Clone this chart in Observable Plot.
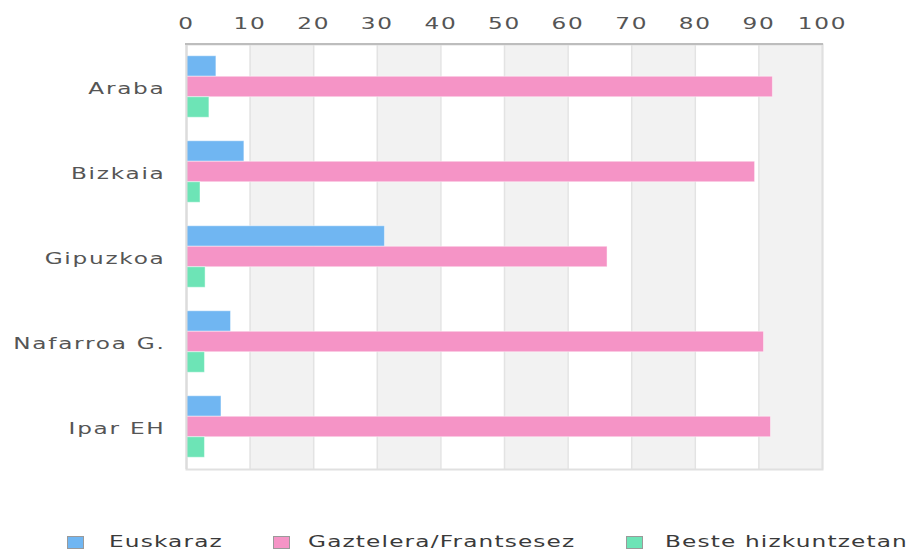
<!DOCTYPE html>
<html>
<head>
<meta charset="utf-8">
<script src="https://cdn.jsdelivr.net/npm/d3@7"></script>
<script src="https://cdn.jsdelivr.net/npm/@observablehq/plot@0.6"></script>
<style>
  body { margin: 0; background: #fff; font-family: "DejaVu Sans", sans-serif; }
  #wrap { position: relative; width: 907px; height: 550px; overflow: hidden; }
  .lg-sw { position: absolute; width: 15px; height: 11px; border: 1px solid #9a9a9a; box-sizing: content-box; }
  .lg-tx { position: absolute; font-size: 16px; line-height: 20px; color: #3a3a3a; letter-spacing: 0.8px; white-space: nowrap; transform-origin: 0 50%; transform: scaleX(1.45); }
</style>
</head>
<body>
<div id="wrap"></div>
<script>
const regions = ["Araba", "Bizkaia", "Gipuzkoa", "Nafarroa G.", "Ipar EH"];
const seriesNames = ["Euskaraz", "Gaztelera/Frantsesez", "Beste hizkuntzetan"];
const euskaraz = [4.7, 9.1, 31.2, 7.0, 5.5];
const gaztelera = [92.2, 89.4, 66.2, 90.8, 91.9];
const beste = [3.6, 2.2, 3.0, 2.9, 2.9];
const seriesColors = ["#70b6f2", "#f594c6", "#6de4b6"];
const xTicks = [0, 10, 20, 30, 40, 50, 60, 70, 80, 90, 100];
const shadedStarts = [10, 30, 50, 70, 90];

const valuesBySeries = [euskaraz, gaztelera, beste];
const rows = [];
seriesNames.forEach((s, si) => regions.forEach((r, ri) => rows.push({region: r, series: s, value: valuesBySeries[si][ri]})));

const W = 907, H = 490, mT = 44, mB = 21, mL = 186, mR = 85;
const step = (H - mT - mB) / regions.length;
const barH = 20.5;
const inset = (step - barH) / 2;

const barMarks = seriesNames.map((s, si) =>
  Plot.barX(rows.filter(d => d.series === s), {
    x: "value", y: "region", fill: "series",
    dy: (si - 1) * barH, insetTop: inset, insetBottom: inset,
    stroke: "#ffffff", strokeOpacity: 0.45, strokeWidth: 1
  })
);

const chart = Plot.plot({
  width: W, height: H,
  marginTop: mT, marginBottom: mB, marginLeft: mL, marginRight: mR,
  style: { fontSize: "16px", fontFamily: "DejaVu Sans, sans-serif", color: "#555", letterSpacing: "1.2px", background: "#fff" },
  x: { domain: [0, 100], axis: "top", ticks: xTicks, tickSize: 0, tickPadding: 16, label: null },
  y: { domain: regions, padding: 0, tickSize: 0, tickPadding: 21, label: null },
  color: { domain: seriesNames, range: seriesColors },
  marks: [
    Plot.rect(shadedStarts, { x1: d => d, x2: d => d + 10, fill: "#f2f2f2" }),
    Plot.ruleX(xTicks, { stroke: "#e3e3e3", strokeWidth: 1.5 }),
    Plot.frame({ stroke: "#e0e0e0", strokeWidth: 2 }),
    ...barMarks,
    Plot.ruleX([0], { stroke: "#dcdcdc", strokeWidth: 2 })
  ]
});

// widen text glyphs horizontally like the reference rendering (scale about each text's anchor)
const yLabelTexts = new Set(chart.querySelectorAll("[aria-label='y-axis tick label'] text"));
chart.querySelectorAll("text").forEach(t => {
  const x = parseFloat(t.getAttribute("x")) || 0;
  const tr = t.getAttribute("transform") || "";
  const shiftY = yLabelTexts.has(t) ? 2 : 0;
  t.setAttribute("transform", `${tr} translate(${x},${shiftY}) scale(1.45,1) translate(${-x},0)`.trim());
});

// top axis line
const ns = "http://www.w3.org/2000/svg";
const topLine = document.createElementNS(ns, "line");
topLine.setAttribute("x1", mL - 1); topLine.setAttribute("x2", W - mR + 1);
topLine.setAttribute("y1", mT); topLine.setAttribute("y2", mT);
topLine.setAttribute("stroke", "#bdbdbd"); topLine.setAttribute("stroke-width", 2);
chart.appendChild(topLine);

const wrap = document.getElementById("wrap");
wrap.appendChild(chart);

const swX = [67, 273, 626], txX = [109, 308, 665];
seriesNames.forEach((s, i) => {
  const sw = document.createElement("div");
  sw.className = "lg-sw";
  sw.style.left = swX[i] + "px"; sw.style.top = "536px"; sw.style.background = seriesColors[i];
  wrap.appendChild(sw);
  const tx = document.createElement("div");
  tx.className = "lg-tx";
  tx.style.left = txX[i] + "px"; tx.style.top = "532px";
  tx.textContent = s;
  wrap.appendChild(tx);
});
</script>
</body>
</html>
